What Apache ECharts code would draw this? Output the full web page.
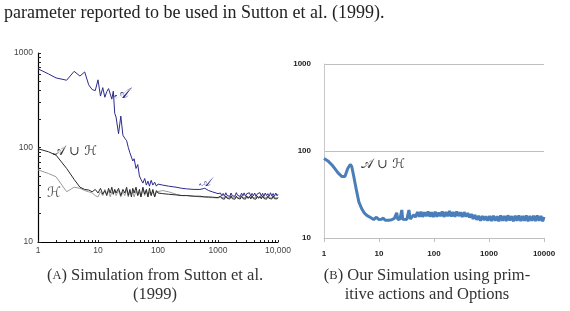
<!DOCTYPE html>
<html>
<head>
<meta charset="utf-8">
<script src="https://cdn.jsdelivr.net/npm/echarts@6/dist/echarts.min.js"></script>
<style>
  html, body { margin: 0; padding: 0; background: #fff; }
  #chart { width: 570px; height: 311px; }
</style>
</head>
<body>
<div id="chart"></div>
<script>
// (a) Sutton et al. (1999) - shared x samples for the three curves
const leftX = [1, 1.5, 2, 3, 4, 5, 6, 7, 8, 9,
  10, 11, 12, 13, 14, 15, 16, 17, 18, 19, 20,
  22, 24, 26, 28, 30, 32, 34, 36, 38, 40,
  43, 46, 49, 52, 56, 60, 64, 68, 72, 77, 82, 88, 94, 100,
  120, 150, 200, 250, 300, 400, 500, 600, 700, 800,
  1000, 1050, 1100, 1160, 1220, 1280, 1350, 1420, 1490, 1570,
  1650, 1730, 1820, 1920, 2020, 2120, 2230, 2350, 2470, 2600,
  2730, 2870, 3020, 3180, 3340, 3520, 3700, 3890, 4090, 4300,
  4530, 4760, 5010, 5270, 5540, 5830, 6130, 6450, 6780, 7130,
  7500, 7890, 8300, 8730, 9180, 9650, 10000]

const suttonA = [680, 600, 545, 515, 640, 570, 630, 460, 410, 400,
  520, 350, 430, 340, 390, 420, 440, 325, 395, 230, 210,
  140, 215, 135, 125, 118, 100, 88, 92, 72, 76,
  60, 66, 50, 46, 42, 47, 40, 44, 39, 45, 40, 43, 39, 41,
  40, 39, 38, 37, 36.5, 36, 36, 37, 35, 34,
  32.5, 31, 33, 30.8, 32.6, 30.5, 33.2, 31, 32.4, 30.4,
  33, 30.8, 32.2, 30.5, 33.3, 31.2, 32.6, 30.3, 32.9, 30.8,
  33.1, 30.4, 32.5, 31, 33.2, 30.5, 32.7, 30.8, 33, 30.3,
  32.4, 31, 33.3, 30.6, 32.8, 30.4, 33, 30.9, 32.5, 30.5,
  33.2, 30.7, 32.6, 30.4, 33, 30.8, 32]

const suttonAH = [97, 90, 83, 60, 46, 38, 36, 35.5, 34, 36,
  33, 37, 32, 35, 31, 37, 33, 38, 32, 36, 33,
  37, 31, 36, 33, 38, 31, 36, 30, 37, 33,
  38, 31, 36, 30, 38, 32, 36, 30, 37, 31, 36, 30, 35, 33,
  32.5, 32, 31.5, 31, 31, 30.5, 30.5, 30, 30, 29.8,
  29.5, 28.6, 30.6, 28.8, 30.2, 28.4, 30.7, 29, 30.3, 28.5,
  30.8, 28.7, 30.1, 28.4, 30.6, 29, 30.4, 28.5, 30.8, 28.8,
  30.2, 28.4, 30.7, 28.9, 30.4, 28.5, 30.8, 28.7, 30.1, 28.4,
  30.6, 29, 30.5, 28.6, 30.8, 28.8, 30.2, 28.4, 30.7, 28.9,
  30.3, 28.5, 30.8, 28.7, 30.1, 28.6, 29.6]

const suttonH = [58, 53, 49, 34, 38, 37, 35, 34, 33, 31,
  30, 34, 31, 36, 32, 35, 30, 34, 32, 36, 31,
  35, 30, 34, 31, 36, 30, 35, 32, 34, 30,
  35, 31, 34, 30, 36, 31, 35, 30, 34, 31, 35, 30, 34, 33,
  35, 34, 32, 31, 31, 30.5, 30, 30, 29.5, 29.5,
  29.2, 28.6, 29.8, 28.7, 29.6, 28.5, 29.9, 28.8, 29.5, 28.6,
  29.8, 28.7, 29.6, 28.5, 29.9, 28.8, 29.4, 28.6, 29.8, 28.7,
  29.5, 28.5, 29.9, 28.8, 29.6, 28.6, 29.8, 28.7, 29.4, 28.5,
  29.9, 28.8, 29.6, 28.6, 29.8, 28.7, 29.5, 28.5, 29.9, 28.8,
  29.6, 28.6, 29.8, 28.7, 29.4, 28.6, 29.2]

// (b) our simulation
const rightX = [1, 1.2, 1.4, 1.6, 1.8, 2.1, 2.4, 2.7, 3, 3.2, 3.5, 3.9, 4.3, 4.8, 5.4, 6,
  7, 8, 9, 10, 11, 12, 13, 14, 15, 16, 17, 18, 19, 20, 21, 22,
  24, 26, 27, 29, 32, 34, 35, 37, 40,
  43, 46, 50, 54, 58, 62, 67, 72, 78, 84, 90, 97,
  105, 113, 122, 131, 141, 152, 164, 177, 191, 206, 222, 240, 259, 280, 302, 326, 352, 380, 410, 442, 477,
  515, 556, 600, 650, 700, 760, 820, 880, 950,
  1030, 1110, 1200, 1300, 1400, 1510, 1630, 1760, 1900, 2050, 2210, 2390, 2580, 2780, 3000,
  3240, 3500, 3780, 4080, 4400, 4750, 5130, 5540, 5980, 6460, 6970, 7520, 8120, 8770, 9470, 10000]

const oursAH = [82, 76, 69, 62, 56, 51, 51, 63, 70, 66, 50, 35, 26, 22, 19.4, 18.2,
  17.2, 16.3, 17.3, 16.3, 16.4, 16.9, 16, 16.5, 16, 16.8, 16.2, 16.4, 16.8, 16.2, 19.5, 16.3,
  16.5, 21, 16.4, 16.6, 16.3, 16.8, 21, 16.5, 17.5,
  18.5, 17.4, 19.8, 17.6, 20, 17.5, 19.7, 17.8, 20.2, 17.6, 19.8, 17.5,
  20, 17.6, 19.6, 17.8, 20.2, 17.5, 19.9, 17.8, 20.4, 17.7, 19.8, 17.6, 20.1, 17.9, 19.7, 17.4, 19.8, 17.6, 19.3, 17.2, 18.8,
  16.6, 18.4, 16.2, 18, 15.8, 17.9, 16, 17.8, 15.8,
  17.9, 15.7, 18, 15.8, 17.8, 15.6, 18.1, 15.8, 17.9, 15.7, 18.2, 15.9, 17.8, 15.6, 18,
  15.8, 18.1, 15.7, 17.9, 15.8, 18.2, 15.6, 17.9, 15.8, 18, 15.7, 18.2, 15.8, 17.9, 15.6, 17.5]

// tick values for the left panel (decades plus 2..9 minors)
const xTickValues = []
for (const d of [1, 10, 100, 1000]) for (let k = 1; k < 10; k++) xTickValues.push(d * k)
xTickValues.push(10000)
const yTickValues = []
for (const d of [10, 100]) for (let k = 1; k < 10; k++) yTickValues.push(d * k)
yTickValues.push(1000)

const pairs = (xs, ys) => xs.map((x, i) => [x, ys[i]])

const serif = '"Liberation Serif", "DejaVu Serif", serif'
const mathFont = '"DejaVu Serif", "DejaVu Sans", serif'

const chart = echarts.init(document.getElementById('chart'))

chart.setOption({
  animation: false,
  grid: [
    { left: 38, top: 53, width: 240, height: 189 },
    { left: 324, top: 64, width: 220, height: 174 }
  ],
  xAxis: [
    {
      gridIndex: 0, type: 'log', logBase: 10, min: 1, max: 10000,
      axisLine: { lineStyle: { color: '#000', width: 1.2 } },
      axisTick: { inside: true, length: 2, customValues: xTickValues, lineStyle: { color: '#222' } },
      splitLine: { show: false },
      axisLabel: {
        fontSize: 8.5, color: '#444', margin: 4, fontFamily: 'Liberation Sans',
        showMinLabel: true, showMaxLabel: true,
        formatter: v => v === 10000 ? '10,000' : String(v)
      }
    },
    {
      gridIndex: 1, type: 'log', logBase: 10, min: 1, max: 10000,
      axisLine: { lineStyle: { color: '#bfbfbf', width: 1 } },
      axisTick: { inside: false, length: 4, lineStyle: { color: '#bfbfbf' } },
      splitLine: { show: false },
      axisLabel: {
        fontSize: 8, color: '#222', fontWeight: 'bold', margin: 12, fontFamily: 'Liberation Sans',
        showMinLabel: true, showMaxLabel: true,
        formatter: v => String(v)
      }
    }
  ],
  yAxis: [
    {
      gridIndex: 0, type: 'log', logBase: 10, min: 10, max: 1000,
      axisLine: { show: true, lineStyle: { color: '#000', width: 1.2 } },
      axisTick: { show: true, inside: true, length: 3, customValues: yTickValues, lineStyle: { color: '#222' } },
      splitLine: { show: false },
      axisLabel: { fontSize: 8.5, color: '#444', margin: 5, fontFamily: 'Liberation Sans', formatter: v => String(v) }
    },
    {
      gridIndex: 1, type: 'log', logBase: 10, min: 10, max: 1000,
      axisLine: { show: true, lineStyle: { color: '#c8c8c8' } },
      axisTick: { show: false },
      splitLine: { show: true, lineStyle: { color: '#bfbfbf', width: 1 } },
      axisLabel: { fontSize: 8, color: '#222', fontWeight: 'bold', margin: 13, fontFamily: 'Liberation Sans', formatter: v => String(v) }
    }
  ],
  series: [
    {
      name: 'H', type: 'line', xAxisIndex: 0, yAxisIndex: 0, showSymbol: false,
      data: pairs(leftX, suttonH), lineStyle: { color: '#9a9a9a', width: 1 }
    },
    {
      name: 'A∪H', type: 'line', xAxisIndex: 0, yAxisIndex: 0, showSymbol: false,
      data: pairs(leftX, suttonAH), lineStyle: { color: '#2a2a2a', width: 1 }
    },
    {
      name: 'A', type: 'line', xAxisIndex: 0, yAxisIndex: 0, showSymbol: false,
      data: pairs(leftX, suttonA), lineStyle: { color: '#2b2b8c', width: 1 }
    },
    {
      name: 'A∪H (ours)', type: 'line', xAxisIndex: 1, yAxisIndex: 1, showSymbol: false,
      data: pairs(rightX, oursAH), lineStyle: { color: '#4a7ebb', width: 3 }
    }
  ],
  graphic: [
    { type: 'text', left: 4, top: 4,
      style: { text: 'parameter reported to be used in Sutton et al. (1999).', font: '18px ' + serif, fill: '#222' } },
    // curve labels
    { type: 'text', x: 114, y: 87, style: { text: '𝒜', font: 'italic 15px ' + mathFont, fill: '#2b2b8c' } },
    { type: 'text', x: 199, y: 177, style: { text: '𝒜', font: 'italic 12px ' + mathFont, fill: '#2b2b8c' } },
    { type: 'text', x: 53, y: 145, style: { text: '𝒜 ∪ ℋ', font: '13px ' + mathFont, fill: '#333' } },
    { type: 'text', x: 47, y: 186, style: { text: 'ℋ', font: '14px ' + mathFont, fill: '#555' } },
    { type: 'text', x: 361, y: 158, style: { text: '𝒜 ∪ ℋ', font: '13px ' + mathFont, fill: '#333' } },
    // captions
    { type: 'text', x: 155, y: 267,
      style: {
        text: '({sc|A}) Simulation from Sutton et al.', font: '16.5px ' + serif, fill: '#333', textAlign: 'center',
        rich: { sc: { font: '12.5px ' + serif, fill: '#333' } }
      } },
    { type: 'text', x: 155, y: 286,
      style: { text: '(1999)', font: '16.5px ' + serif, fill: '#333', textAlign: 'center' } },
    { type: 'text', x: 427, y: 267,
      style: {
        text: '({sc|B}) Our Simulation using prim-', font: '16.5px ' + serif, fill: '#333', textAlign: 'center',
        rich: { sc: { font: '12.5px ' + serif, fill: '#333' } }
      } },
    { type: 'text', x: 427, y: 286,
      style: { text: 'itive actions and Options', font: '16.5px ' + serif, fill: '#333', textAlign: 'center' } }
  ]
})
</script>
</body>
</html>
